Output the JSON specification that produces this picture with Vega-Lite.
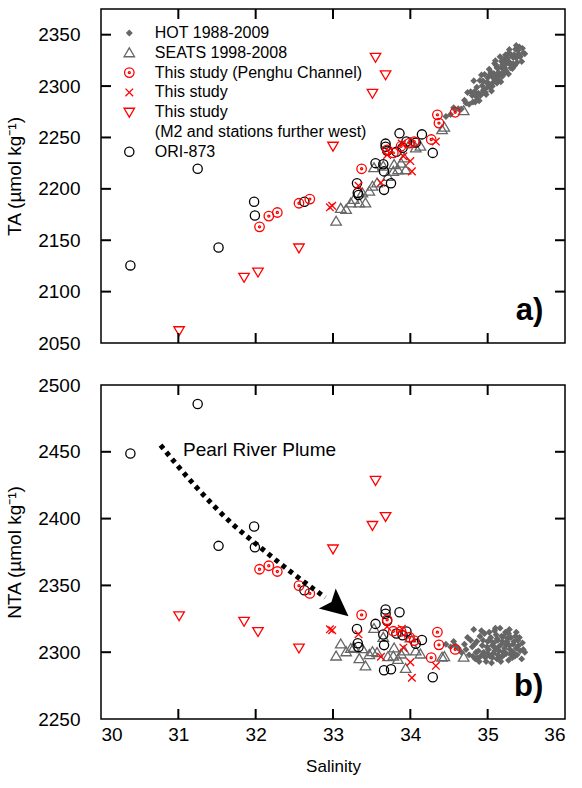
{
  "$schema": "https://vega.github.io/schema/vega-lite/v6.json",
  "background": "white",
  "padding": {"left": 4, "top": 7, "right": 5, "bottom": 5},
  "config": {
    "font": "Liberation Sans",
    "view": {"stroke": "black", "strokeWidth": 1.5},
    "axis": {"domain": false, "grid": false, "ticks": false, "labelFont": "Liberation Sans", "labelFontSize": 19, "labelColor": "black", "titleFont": "Liberation Sans", "titleFontWeight": "normal", "titleColor": "black", "minExtent": 0}
  },
  "datasets": {
    "pts": [
      {"g":"HOT","s":34.46,"ta":2270.4,"nta":2306},{"g":"HOT","s":34.52,"ta":2272.4,"nta":2304},{"g":"HOT","s":34.56,"ta":2279.0,"nta":2308},{"g":"HOT","s":34.62,"ta":2278.0,"nta":2303},{"g":"HOT","s":34.66,"ta":2277.7,"nta":2300},{"g":"HOT","s":34.70,"ta":2286.2,"nta":2306},{"g":"HOT","s":34.74,"ta":2293.8,"nta":2311},{"g":"HOT","s":34.76,"ta":2282.2,"nta":2298},{"g":"HOT","s":34.80,"ta":2290.8,"nta":2304},{"g":"HOT","s":34.82,"ta":2305.1,"nta":2317},{"g":"HOT","s":34.84,"ta":2284.5,"nta":2295},{"g":"HOT","s":34.86,"ta":2298.8,"nta":2308},{"g":"HOT","s":34.88,"ta":2293.1,"nta":2301},{"g":"HOT","s":34.90,"ta":2305.4,"nta":2312},{"g":"HOT","s":34.91,"ta":2291.1,"nta":2297},{"g":"HOT","s":34.93,"ta":2300.4,"nta":2305},{"g":"HOT","s":34.95,"ta":2296.7,"nta":2300},{"g":"HOT","s":34.96,"ta":2311.4,"nta":2314},{"g":"HOT","s":34.98,"ta":2291.7,"nta":2293},{"g":"HOT","s":35.00,"ta":2308.0,"nta":2308},{"g":"HOT","s":35.01,"ta":2302.7,"nta":2302},{"g":"HOT","s":35.03,"ta":2299.0,"nta":2297},{"g":"HOT","s":35.04,"ta":2313.6,"nta":2311},{"g":"HOT","s":35.06,"ta":2309.0,"nta":2305},{"g":"HOT","s":35.07,"ta":2303.6,"nta":2299},{"g":"HOT","s":35.09,"ta":2322.0,"nta":2316},{"g":"HOT","s":35.10,"ta":2309.6,"nta":2303},{"g":"HOT","s":35.12,"ta":2302.9,"nta":2295},{"g":"HOT","s":35.13,"ta":2317.6,"nta":2309},{"g":"HOT","s":35.15,"ta":2310.9,"nta":2301},{"g":"HOT","s":35.16,"ta":2328.6,"nta":2318},{"g":"HOT","s":35.18,"ta":2317.9,"nta":2306},{"g":"HOT","s":35.19,"ta":2309.5,"nta":2297},{"g":"HOT","s":35.21,"ta":2325.9,"nta":2312},{"g":"HOT","s":35.22,"ta":2317.5,"nta":2303},{"g":"HOT","s":35.24,"ta":2314.8,"nta":2299},{"g":"HOT","s":35.25,"ta":2324.5,"nta":2308},{"g":"HOT","s":35.27,"ta":2311.7,"nta":2294},{"g":"HOT","s":35.28,"ta":2323.4,"nta":2305},{"g":"HOT","s":35.30,"ta":2330.8,"nta":2311},{"g":"HOT","s":35.31,"ta":2320.4,"nta":2300},{"g":"HOT","s":35.33,"ta":2327.7,"nta":2306},{"g":"HOT","s":35.35,"ta":2320.0,"nta":2297},{"g":"HOT","s":35.37,"ta":2327.3,"nta":2303},{"g":"HOT","s":35.39,"ta":2334.7,"nta":2309},{"g":"HOT","s":35.42,"ta":2328.6,"nta":2301},{"g":"HOT","s":35.45,"ta":2336.7,"nta":2307},{"g":"HOT","s":35.48,"ta":2331.5,"nta":2300},{"g":"HOT","s":34.97,"ta":2294.0,"nta":2296},{"g":"HOT","s":35.05,"ta":2295.3,"nta":2292},{"g":"HOT","s":35.11,"ta":2320.3,"nta":2313},{"g":"HOT","s":35.17,"ta":2304.1,"nta":2293},{"g":"HOT","s":35.23,"ta":2330.2,"nta":2315},{"g":"HOT","s":35.29,"ta":2321.1,"nta":2302},{"g":"HOT","s":35.36,"ta":2335.8,"nta":2312},{"g":"HOT","s":34.89,"ta":2285.8,"nta":2293},{"g":"HOT","s":34.94,"ta":2305.0,"nta":2309},{"g":"HOT","s":35.02,"ta":2316.3,"nta":2315},{"g":"HOT","s":35.14,"ta":2313.2,"nta":2304},{"g":"HOT","s":35.20,"ta":2313.1,"nta":2300},{"g":"HOT","s":35.26,"ta":2327.2,"nta":2310},{"g":"HOT","s":35.32,"ta":2317.0,"nta":2296},{"g":"HOT","s":35.40,"ta":2331.3,"nta":2305},{"g":"HOT","s":34.85,"ta":2290.1,"nta":2300},{"g":"HOT","s":35.08,"ta":2312.3,"nta":2307},{"g":"HOT","s":35.44,"ta":2323.9,"nta":2295},
      {"g":"HOT","s":34.78,"ta":2294.5,"nta":2309},{"g":"HOT","s":34.83,"ta":2294.8,"nta":2306},{"g":"HOT","s":34.87,"ta":2287.5,"nta":2296},{"g":"HOT","s":34.92,"ta":2310.7,"nta":2316},{"g":"HOT","s":34.99,"ta":2303.3,"nta":2304},{"g":"HOT","s":35.03,"ta":2311.0,"nta":2309},{"g":"HOT","s":35.06,"ta":2299.9,"nta":2296},{"g":"HOT","s":35.09,"ta":2306.9,"nta":2301},{"g":"HOT","s":35.12,"ta":2317.9,"nta":2310},{"g":"HOT","s":35.15,"ta":2305.8,"nta":2296},{"g":"HOT","s":35.18,"ta":2323.9,"nta":2312},{"g":"HOT","s":35.21,"ta":2311.8,"nta":2298},{"g":"HOT","s":35.24,"ta":2321.8,"nta":2306},{"g":"HOT","s":35.27,"ta":2331.9,"nta":2314},{"g":"HOT","s":35.30,"ta":2317.7,"nta":2298},{"g":"HOT","s":35.34,"ta":2330.4,"nta":2308},{"g":"HOT","s":35.38,"ta":2323.0,"nta":2298},{"g":"HOT","s":35.41,"ta":2338.1,"nta":2311},{"g":"HOT","s":35.46,"ta":2332.3,"nta":2302},{"g":"HOT","s":34.72,"ta":2283.6,"nta":2302},{"g":"HOT","s":34.58,"ta":2277.3,"nta":2305},{"g":"HOT","s":35.00,"ta":2299.0,"nta":2299},{"g":"HOT","s":35.10,"ta":2324.6,"nta":2318},{"g":"HOT","s":35.19,"ta":2320.5,"nta":2308},{"g":"HOT","s":35.33,"ta":2321.7,"nta":2300},{"g":"HOT","s":34.94,"ta":2295.1,"nta":2299},{"g":"HOT","s":35.13,"ta":2306.5,"nta":2298},{"g":"HOT","s":35.28,"ta":2335.5,"nta":2317},{"g":"HOT","s":34.81,"ta":2284.5,"nta":2297},{"g":"HOT","s":35.37,"ta":2339.5,"nta":2315},
      {"g":"SEATS","s":33.04,"ta":2168.5,"nta":2297.1},{"g":"SEATS","s":33.10,"ta":2181.0,"nta":2306.2},{"g":"SEATS","s":33.17,"ta":2180.0,"nta":2300.3},{"g":"SEATS","s":33.23,"ta":2186.3,"nta":2302.8},{"g":"SEATS","s":33.27,"ta":2189.6,"nta":2303.5},{"g":"SEATS","s":33.34,"ta":2186.3,"nta":2295.2},{"g":"SEATS","s":33.42,"ta":2186.3,"nta":2289.7},{"g":"SEATS","s":33.38,"ta":2196.0,"nta":2302.6},{"g":"SEATS","s":33.47,"ta":2197.7,"nta":2298.2},{"g":"SEATS","s":33.51,"ta":2202.5,"nta":2300.4},{"g":"SEATS","s":33.57,"ta":2205.7,"nta":2299.7},{"g":"SEATS","s":33.53,"ta":2220.5,"nta":2317.8},{"g":"SEATS","s":33.65,"ta":2222.0,"nta":2311.1},{"g":"SEATS","s":33.71,"ta":2212.0,"nta":2296.6},{"g":"SEATS","s":33.78,"ta":2217.0,"nta":2297.1},{"g":"SEATS","s":33.84,"ta":2218.5,"nta":2294.6},{"g":"SEATS","s":33.79,"ta":2223.6,"nta":2303.2},{"g":"SEATS","s":33.88,"ta":2225.0,"nta":2298.6},{"g":"SEATS","s":33.94,"ta":2218.5,"nta":2287.8},{"g":"SEATS","s":33.92,"ta":2230.0,"nta":2301.0},{"g":"SEATS","s":34.00,"ta":2244.6,"nta":2310.6},{"g":"SEATS","s":34.07,"ta":2239.8,"nta":2300.9},{"g":"SEATS","s":34.13,"ta":2241.5,"nta":2298.6},{"g":"SEATS","s":34.41,"ta":2257.6,"nta":2296.3},{"g":"SEATS","s":34.44,"ta":2260.0,"nta":2296.7},{"g":"SEATS","s":34.69,"ta":2276.0,"nta":2296.3},
      {"g":"ORI","s":30.38,"ta":2125.5,"nta":2448.7},{"g":"ORI","s":31.25,"ta":2219.5,"nta":2485.8},{"g":"ORI","s":31.52,"ta":2143.0,"nta":2379.6},{"g":"ORI","s":31.98,"ta":2187.5,"nta":2394.1},{"g":"ORI","s":31.99,"ta":2174.0,"nta":2378.6},{"g":"ORI","s":32.63,"ta":2187.5,"nta":2346.4},{"g":"ORI","s":33.31,"ta":2205.5,"nta":2317.4},{"g":"ORI","s":33.32,"ta":2196.0,"nta":2306.7},{"g":"ORI","s":33.33,"ta":2194.0,"nta":2303.9},{"g":"ORI","s":33.55,"ta":2225.0,"nta":2321.2},{"g":"ORI","s":33.66,"ta":2199.0,"nta":2286.5},{"g":"ORI","s":33.66,"ta":2217.0,"nta":2305.3},{"g":"ORI","s":33.68,"ta":2244.0,"nta":2331.9},{"g":"ORI","s":33.68,"ta":2241.0,"nta":2328.8},{"g":"ORI","s":33.70,"ta":2237.0,"nta":2323.3},{"g":"ORI","s":33.75,"ta":2205.5,"nta":2287.2},{"g":"ORI","s":33.82,"ta":2236.0,"nta":2314.0},{"g":"ORI","s":33.86,"ta":2254.0,"nta":2329.9},{"g":"ORI","s":33.90,"ta":2240.0,"nta":2312.7},{"g":"ORI","s":33.95,"ta":2246.0,"nta":2315.5},{"g":"ORI","s":34.07,"ta":2245.0,"nta":2306.3},{"g":"ORI","s":34.15,"ta":2253.0,"nta":2309.1},{"g":"ORI","s":34.29,"ta":2235.0,"nta":2281.3},{"g":"ORI","s":33.65,"ta":2224.0,"nta":2313.2},
      {"g":"PC","s":32.05,"ta":2163.0,"nta":2362.1},{"g":"PC","s":32.17,"ta":2173.5,"nta":2364.7},{"g":"PC","s":32.28,"ta":2177.0,"nta":2360.4},{"g":"PC","s":32.56,"ta":2186.0,"nta":2349.8},{"g":"PC","s":32.70,"ta":2190.0,"nta":2344.0},{"g":"PC","s":33.37,"ta":2219.5,"nta":2327.9},{"g":"PC","s":33.70,"ta":2238.0,"nta":2324.3},{"g":"PC","s":33.78,"ta":2235.0,"nta":2315.7},{"g":"PC","s":33.88,"ta":2241.5,"nta":2315.6},{"g":"PC","s":33.99,"ta":2244.5,"nta":2311.2},{"g":"PC","s":34.05,"ta":2246.0,"nta":2308.7},{"g":"PC","s":34.27,"ta":2248.0,"nta":2295.9},{"g":"PC","s":34.35,"ta":2272.0,"nta":2315.0},{"g":"PC","s":34.37,"ta":2264.0,"nta":2305.5},{"g":"PC","s":34.58,"ta":2274.5,"nta":2302.1},
      {"g":"X","s":32.96,"ta":2182.0,"nta":2317.1},{"g":"X","s":32.99,"ta":2183.5,"nta":2316.5},{"g":"X","s":33.33,"ta":2203.0,"nta":2313.4},{"g":"X","s":33.62,"ta":2206.0,"nta":2296.6},{"g":"X","s":33.70,"ta":2233.0,"nta":2319.1},{"g":"X","s":33.89,"ta":2244.0,"nta":2317.5},{"g":"X","s":33.91,"ta":2231.7,"nta":2303.4},{"g":"X","s":34.00,"ta":2227.0,"nta":2292.5},{"g":"X","s":34.02,"ta":2217.0,"nta":2280.9},{"g":"X","s":34.33,"ta":2246.0,"nta":2289.8},
      {"g":"TRI","s":31.01,"ta":2062.0,"nta":2327.3},{"g":"TRI","s":31.85,"ta":2114.0,"nta":2323.1},{"g":"TRI","s":32.03,"ta":2119.0,"nta":2315.5},{"g":"TRI","s":32.56,"ta":2142.5,"nta":2303.1},{"g":"TRI","s":33.00,"ta":2241.5,"nta":2377.3},{"g":"TRI","s":33.51,"ta":2293.0,"nta":2394.9},{"g":"TRI","s":33.55,"ta":2328.0,"nta":2428.6},{"g":"TRI","s":33.68,"ta":2311.0,"nta":2401.6}
    ],
    "plume": [
      {"i":1,"s":30.77,"nta":2455},{"i":2,"s":31.21,"nta":2425},{"i":3,"s":31.68,"nta":2397},{"i":4,"s":32.07,"nta":2378},{"i":5,"s":32.48,"nta":2359},{"i":6,"s":32.9,"nta":2341}
    ],
    "xt": [{"v":31},{"v":32},{"v":33},{"v":34},{"v":35}],
    "yta": [{"v":2100},{"v":2150},{"v":2200},{"v":2250},{"v":2300},{"v":2350}],
    "ynta": [{"v":2300},{"v":2350},{"v":2400},{"v":2450}]
  },
  "spacing": 21,
  "resolve": {"scale": {"stroke": "independent", "shape": "independent", "fill": "independent", "size": "independent"}},
  "vconcat": [
    {
      "width": 464,
      "height": 334,
      "layer": [
        {
          "data": {"name": "pts"},
          "mark": {"type": "point", "filled": false, "strokeWidth": 1.3, "opacity": 1},
          "encoding": {
            "x": {"field": "s", "type": "quantitative", "scale": {"domain": [30, 36], "nice": false, "zero": false}, "axis": null},
            "y": {"field": "ta", "type": "quantitative", "scale": {"domain": [2050, 2375], "nice": false, "zero": false}, "axis": {"orient": "left", "format": "d", "values": [2050, 2100, 2150, 2200, 2250, 2300, 2350], "title": "TA (µmol kg⁻¹)", "titleFontSize": 19, "labelPadding": 21, "titlePadding": 13}},
            "shape": {"field": "g", "type": "nominal", "scale": {"domain": ["HOT", "SEATS", "PC", "X", "TRI", "NOTE", "ORI"], "range": ["diamond", "M-1,0.75L1,0.75L0,-0.95Z", "M1,0A1,1 0 1,1 -1,0A1,1 0 1,1 1,0Z M0.22,0A0.22,0.22 0 1,1 -0.22,0A0.22,0.22 0 1,1 0.22,0Z", "M-0.85,-0.85L0.85,0.85M-0.85,0.85L0.85,-0.85", "M-1,-0.75L1,-0.75L0,0.95Z", "M0,0L0,0", "circle"]}, "legend": {"orient": "none", "legendX": 20.3, "legendY": 16, "title": null, "padding": 0, "labelFontSize": 16, "labelColor": "black", "labelLimit": 400, "rowPadding": 3.8, "labelOffset": 17.5, "symbolStrokeWidth": 1.3, "labelExpr": "datum.label == 'HOT' ? 'HOT 1988-2009' : datum.label == 'SEATS' ? 'SEATS 1998-2008' : datum.label == 'PC' ? 'This study (Penghu Channel)' : datum.label == 'X' ? 'This study' : datum.label == 'TRI' ? 'This study' : datum.label == 'NOTE' ? '(M2 and stations further west)' : 'ORI-873'"}},
            "stroke": {"field": "g", "type": "nominal", "scale": {"domain": ["HOT", "SEATS", "PC", "X", "TRI", "NOTE", "ORI"], "range": ["#666666", "#666666", "#ff0000", "#ff0000", "#ff0000", "transparent", "#000000"]}, "legend": {"orient": "none", "legendX": 20.3, "legendY": 16, "title": null, "padding": 0, "labelFontSize": 16, "labelColor": "black", "labelLimit": 400, "rowPadding": 3.8, "labelOffset": 17.5, "symbolStrokeWidth": 1.3, "labelExpr": "datum.label == 'HOT' ? 'HOT 1988-2009' : datum.label == 'SEATS' ? 'SEATS 1998-2008' : datum.label == 'PC' ? 'This study (Penghu Channel)' : datum.label == 'X' ? 'This study' : datum.label == 'TRI' ? 'This study' : datum.label == 'NOTE' ? '(M2 and stations further west)' : 'ORI-873'"}},
            "fill": {"field": "g", "type": "nominal", "scale": {"domain": ["HOT", "SEATS", "PC", "X", "TRI", "NOTE", "ORI"], "range": ["#666666", "transparent", "transparent", "transparent", "transparent", "transparent", "transparent"]}, "legend": {"orient": "none", "legendX": 20.3, "legendY": 16, "title": null, "padding": 0, "labelFontSize": 16, "labelColor": "black", "labelLimit": 400, "rowPadding": 3.8, "labelOffset": 17.5, "symbolStrokeWidth": 1.3, "labelExpr": "datum.label == 'HOT' ? 'HOT 1988-2009' : datum.label == 'SEATS' ? 'SEATS 1998-2008' : datum.label == 'PC' ? 'This study (Penghu Channel)' : datum.label == 'X' ? 'This study' : datum.label == 'TRI' ? 'This study' : datum.label == 'NOTE' ? '(M2 and stations further west)' : 'ORI-873'"}},
            "size": {"field": "g", "type": "nominal", "scale": {"type": "ordinal", "domain": ["HOT", "SEATS", "PC", "X", "TRI", "NOTE", "ORI"], "range": [26, 110, 90, 80, 110, 1, 85]}, "legend": {"orient": "none", "legendX": 20.3, "legendY": 16, "title": null, "padding": 0, "labelFontSize": 16, "labelColor": "black", "labelLimit": 400, "rowPadding": 3.8, "labelOffset": 17.5, "symbolStrokeWidth": 1.3, "labelExpr": "datum.label == 'HOT' ? 'HOT 1988-2009' : datum.label == 'SEATS' ? 'SEATS 1998-2008' : datum.label == 'PC' ? 'This study (Penghu Channel)' : datum.label == 'X' ? 'This study' : datum.label == 'TRI' ? 'This study' : datum.label == 'NOTE' ? '(M2 and stations further west)' : 'ORI-873'"}}
          }
        },
        {
          "data": {"values": [{"s": 35.54, "ta": 2081, "t": "a)"}]},
          "mark": {"type": "text", "fontSize": 31, "fontWeight": "bold", "align": "center", "baseline": "middle", "color": "black"},
          "encoding": {
            "x": {"field": "s", "type": "quantitative"},
            "y": {"field": "ta", "type": "quantitative"},
            "text": {"field": "t"}
          }
        },
        {
          "data": {"name": "xt"},
          "mark": {"type": "rule", "strokeWidth": 2, "color": "black"},
          "encoding": {"x": {"field": "v", "type": "quantitative"}, "y": {"datum": 2050}, "y2": {"datum": 2059.7}}
        },
        {
          "data": {"name": "xt"},
          "mark": {"type": "rule", "strokeWidth": 2, "color": "black"},
          "encoding": {"x": {"field": "v", "type": "quantitative"}, "y": {"datum": 2375}, "y2": {"datum": 2365.3}}
        },
        {
          "data": {"name": "yta"},
          "mark": {"type": "rule", "strokeWidth": 2, "color": "black"},
          "encoding": {"y": {"field": "v", "type": "quantitative"}, "x": {"datum": 30}, "x2": {"datum": 30.129}}
        },
        {
          "data": {"name": "yta"},
          "mark": {"type": "rule", "strokeWidth": 2, "color": "black"},
          "encoding": {"y": {"field": "v", "type": "quantitative"}, "x": {"datum": 36}, "x2": {"datum": 35.871}}
        }
      ]
    },
    {
      "width": 464,
      "height": 334,
      "layer": [
        {
          "data": {"name": "pts"},
          "mark": {"type": "point", "filled": false, "strokeWidth": 1.3, "opacity": 1},
          "encoding": {
            "x": {"field": "s", "type": "quantitative", "scale": {"domain": [30, 36], "nice": false, "zero": false}, "axis": {"orient": "bottom", "format": "d", "values": [30, 31, 32, 33, 34, 35, 36], "title": "Salinity", "titleFontSize": 17, "labelPadding": 6, "titlePadding": 14}},
            "y": {"field": "nta", "type": "quantitative", "scale": {"domain": [2250, 2500], "nice": false, "zero": false}, "axis": {"orient": "left", "format": "d", "values": [2250, 2300, 2350, 2400, 2450, 2500], "title": "NTA (µmol kg⁻¹)", "titleFontSize": 19, "labelPadding": 21, "titlePadding": 13}},
            "shape": {"field": "g", "type": "nominal", "scale": {"domain": ["HOT", "SEATS", "PC", "X", "TRI", "NOTE", "ORI"], "range": ["diamond", "M-1,0.75L1,0.75L0,-0.95Z", "M1,0A1,1 0 1,1 -1,0A1,1 0 1,1 1,0Z M0.22,0A0.22,0.22 0 1,1 -0.22,0A0.22,0.22 0 1,1 0.22,0Z", "M-0.85,-0.85L0.85,0.85M-0.85,0.85L0.85,-0.85", "M-1,-0.75L1,-0.75L0,0.95Z", "M0,0L0,0", "circle"]}, "legend": null},
            "stroke": {"field": "g", "type": "nominal", "scale": {"domain": ["HOT", "SEATS", "PC", "X", "TRI", "NOTE", "ORI"], "range": ["#666666", "#666666", "#ff0000", "#ff0000", "#ff0000", "transparent", "#000000"]}, "legend": null},
            "fill": {"field": "g", "type": "nominal", "scale": {"domain": ["HOT", "SEATS", "PC", "X", "TRI", "NOTE", "ORI"], "range": ["#666666", "transparent", "transparent", "transparent", "transparent", "transparent", "transparent"]}, "legend": null},
            "size": {"field": "g", "type": "nominal", "scale": {"type": "ordinal", "domain": ["HOT", "SEATS", "PC", "X", "TRI", "NOTE", "ORI"], "range": [26, 110, 90, 80, 110, 1, 85]}, "legend": null}
          }
        },
        {
          "data": {"name": "plume"},
          "mark": {"type": "line", "strokeDash": [4.5, 4.5], "strokeWidth": 5, "color": "black", "interpolate": "monotone", "strokeCap": "butt"},
          "encoding": {
            "x": {"field": "s", "type": "quantitative"},
            "y": {"field": "nta", "type": "quantitative"},
            "order": {"field": "i", "type": "quantitative"}
          }
        },
        {
          "data": {"values": [{"s": 33.048, "nta": 2334.3}]},
          "mark": {"type": "point", "shape": "M0,-1L0.85,0.8L0,0.45L-0.85,0.8Z", "filled": true, "color": "black", "opacity": 1, "size": 950, "angle": 130},
          "encoding": {
            "x": {"field": "s", "type": "quantitative"},
            "y": {"field": "nta", "type": "quantitative"}
          }
        },
        {
          "data": {"values": [{"s": 31.06, "nta": 2451, "t": "Pearl River Plume"}]},
          "mark": {"type": "text", "align": "left", "baseline": "middle", "color": "black", "fontSize": 19},
          "encoding": {
            "x": {"field": "s", "type": "quantitative"},
            "y": {"field": "nta", "type": "quantitative"},
            "text": {"field": "t"}
          }
        },
        {
          "data": {"values": [{"s": 35.53, "nta": 2274, "t": "b)"}]},
          "mark": {"type": "text", "align": "center", "baseline": "middle", "color": "black", "fontSize": 31, "fontWeight": "bold"},
          "encoding": {
            "x": {"field": "s", "type": "quantitative"},
            "y": {"field": "nta", "type": "quantitative"},
            "text": {"field": "t"}
          }
        },
        {
          "data": {"name": "xt"},
          "mark": {"type": "rule", "strokeWidth": 2, "color": "black"},
          "encoding": {"x": {"field": "v", "type": "quantitative"}, "y": {"datum": 2250}, "y2": {"datum": 2257.5}}
        },
        {
          "data": {"name": "xt"},
          "mark": {"type": "rule", "strokeWidth": 2, "color": "black"},
          "encoding": {"x": {"field": "v", "type": "quantitative"}, "y": {"datum": 2500}, "y2": {"datum": 2492.5}}
        },
        {
          "data": {"name": "ynta"},
          "mark": {"type": "rule", "strokeWidth": 2, "color": "black"},
          "encoding": {"y": {"field": "v", "type": "quantitative"}, "x": {"datum": 30}, "x2": {"datum": 30.129}}
        },
        {
          "data": {"name": "ynta"},
          "mark": {"type": "rule", "strokeWidth": 2, "color": "black"},
          "encoding": {"y": {"field": "v", "type": "quantitative"}, "x": {"datum": 36}, "x2": {"datum": 35.871}}
        }
      ]
    }
  ]
}
